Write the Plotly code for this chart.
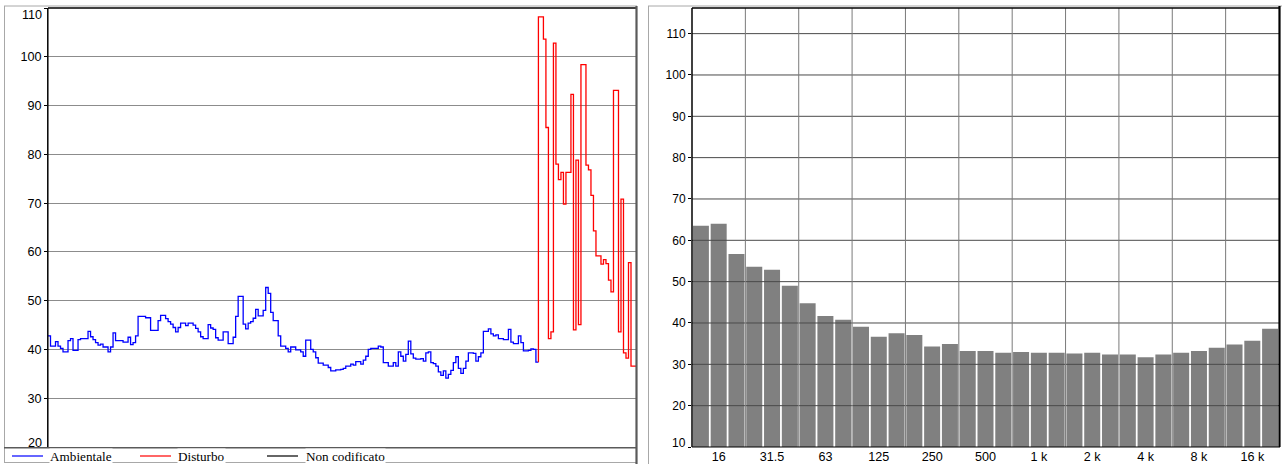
import plotly.graph_objects as go

# Short-interval level history (dB), one value per sample
level_amb = [
    42.8, 40.7, 40.7, 41.6, 40.7, 40.2, 39.5, 39.5, 41.8, 42.2,
    39.8, 39.8, 42.0, 42.2, 42.2, 42.2, 43.7, 42.6, 42.0, 41.4,
    40.9, 41.1, 40.5, 40.5, 39.5, 40.5, 43.4, 41.8, 41.8, 41.8,
    41.5, 41.5, 42.5, 41.0, 41.4, 42.8, 46.8, 46.8, 46.8, 46.5,
    46.5, 43.9, 43.9, 43.9, 45.9, 47.0, 47.0, 46.3, 45.7, 45.2,
    44.5, 43.6, 44.5, 45.4, 45.4, 44.9, 45.4, 45.4, 45.0, 44.3,
    43.6, 42.6, 42.2, 42.2, 45.1, 44.4, 44.1, 42.4, 41.9, 41.9,
    43.6, 43.6, 41.2, 41.2, 42.5, 46.8, 50.9, 50.9, 45.2, 44.2,
    45.4, 45.7, 46.4, 48.2, 46.9, 46.9, 48.0, 52.7, 51.5, 47.6,
    45.9, 45.9, 42.8, 40.7, 40.7, 40.2, 39.5, 40.5, 40.5, 39.9,
    39.9, 39.5, 38.6, 41.9, 41.9, 40.0, 39.5, 38.3, 37.2, 37.2,
    36.8, 36.8, 36.3, 35.6, 35.6, 35.8, 35.8, 35.9, 36.1, 36.6,
    36.6, 37.0, 36.8, 37.5, 37.5, 37.0, 37.8, 38.6, 40.0, 40.2,
    40.2, 40.2, 40.7, 40.5, 37.3, 37.3, 36.6, 36.6, 37.3, 36.6,
    39.5, 38.6, 37.6, 39.0, 41.7, 39.1, 38.2, 38.0, 38.0, 38.1,
    37.6, 39.3, 39.5, 37.3, 37.1, 36.6, 35.4, 34.7, 35.6, 34.1,
    34.9, 35.7, 37.3, 38.5, 36.1, 35.1, 36.1, 37.6, 39.3, 39.3,
    39.2, 37.6, 38.5, 39.3, 43.7, 43.7, 44.2, 43.2, 42.8, 43.0,
    42.2, 42.2, 42.0, 42.0, 44.1, 41.5, 41.2, 41.2, 42.8, 41.4,
    39.7, 39.7, 39.8, 40.1, 40.0, 37.4,
]
level_dist = [
    108.2, 108.2, 103.6, 85.5, 42.2, 43.6, 102.8, 78.0, 74.8, 76.3,
    69.8, 76.3, 76.3, 92.3, 44.0, 78.8, 45.1, 98.4, 98.4, 77.8,
    76.8, 71.6, 64.3, 59.2, 59.2, 57.5, 58.4, 57.6, 54.2, 51.8,
    93.1, 93.1, 43.6, 70.8, 39.3, 38.2, 57.8, 36.6, 36.6,
]
level_ticks = [20, 30, 40, 50, 60, 70, 80, 90, 100, 110]

# One-third octave spectrum (dB)
bands = ["12.5", "16", "20", "25", "31.5", "40", "50", "63", "80", "100",
         "125", "160", "200", "250", "315", "400", "500", "630", "800", "1 k",
         "1.25 k", "1.6 k", "2 k", "2.5 k", "3.15 k", "4 k", "5 k", "6.3 k",
         "8 k", "10 k", "12.5 k", "16 k", "20 k"]
spectrum = [63.5, 64.0, 56.7, 53.6, 52.9, 49.0, 44.8, 41.7, 40.8, 39.1,
            36.7, 37.5, 37.1, 34.3, 34.9, 33.2, 33.2, 32.8, 33.0, 32.8,
            32.8, 32.6, 32.8, 32.4, 32.4, 31.7, 32.4, 32.8, 33.2, 34.0,
            34.8, 35.7, 38.6]
band_ticks = ["16", "31.5", "63", "125", "250", "500", "1 k", "2 k", "4 k", "8 k", "16 k"]
spectrum_ticks = [10, 20, 30, 40, 50, 60, 70, 80, 90, 100, 110]

legend_items = [("Ambientale", "#0000ff"), ("Disturbo", "#ff0000"), ("Non codificato", "#000000")]

W, H = 1282, 464


def px(x):
    return x / W


def py(y):
    return 1 - y / H


TICK_FONT = dict(family="Liberation Sans, Arial, sans-serif", size=12.6, color="#000000")

fig = go.Figure()

# time history: step lines, the disturbance trace continues from the last ambient sample
n_amb = len(level_amb)
t_amb = list(range(n_amb)) + [n_amb]
fig.add_trace(go.Scatter(
    x=t_amb, y=level_amb + [level_amb[-1]], mode="lines",
    line=dict(color="#0000ff", width=1.3, shape="hv"),
    xaxis="x", yaxis="y", showlegend=False, hoverinfo="skip"))

n_dist = len(level_dist)
t_dist = [n_amb] + list(range(n_amb, n_amb + n_dist)) + [n_amb + n_dist]
fig.add_trace(go.Scatter(
    x=t_dist, y=[level_amb[-1]] + level_dist + [level_dist[-1]], mode="lines",
    line=dict(color="#ff0000", width=1.3, shape="hv"),
    xaxis="x", yaxis="y", showlegend=False, hoverinfo="skip"))

# spectrum bars
fig.add_trace(go.Bar(
    x=bands, y=spectrum, marker=dict(color="#808080", line=dict(width=0)),
    xaxis="x2", yaxis="y2", showlegend=False, hoverinfo="skip"))

shapes = []
annotations = []

# gridlines of the spectrum drawn over the bars
for v in spectrum_ticks[1:]:
    shapes.append(dict(type="line", xref="x2 domain", x0=0, x1=1, yref="y2", y0=v, y1=v,
                       line=dict(color="#4a4a4a", width=1), layer="above"))
for i in range(3, len(bands), 3):
    shapes.append(dict(type="line", xref="x2", x0=i - 0.5, x1=i - 0.5, yref="y2 domain", y0=0, y1=1,
                       line=dict(color="#7a7a7a", width=1), layer="above"))


def seg(x0, y0, x1, y1, color, width):
    shapes.append(dict(type="line", xref="paper", yref="paper",
                       x0=px(x0), y0=py(y0), x1=px(x1), y1=py(y1),
                       line=dict(color=color, width=width), layer="above"))


# left panel frame and legend strip
seg(4, 6, 637, 6, "#a8a8a8", 1)
seg(4.5, 6, 4.5, 463, "#a8a8a8", 1)
seg(4, 462.5, 637, 462.5, "#a8a8a8", 1)
seg(48, 8, 636, 8, "#000000", 1.5)
seg(47.8, 8, 47.8, 447, "#000000", 1.5)
seg(636.5, 6, 636.5, 464, "#5a5a5a", 2.2)
seg(4, 447.8, 637, 447.8, "#5a5a5a", 1.5)

# right panel frame
seg(648, 6, 1282, 6, "#a8a8a8", 1)
seg(648.5, 6, 648.5, 464, "#a8a8a8", 1)
seg(692, 8, 1280, 8, "#000000", 1.5)
seg(692, 8, 692, 447, "#000000", 1.5)
seg(1279.5, 6, 1279.5, 447, "#000000", 2.2)
seg(692, 447, 1280, 447, "#000000", 1.2)

# legend entries
legend_x = [(12, 43, 49), (140, 171, 177), (267, 298, 305)]
for (label, color), (lx0, lx1, tx) in zip(legend_items, legend_x):
    seg(lx0, 456, lx1, 456, color, 1.2)
    annotations.append(dict(xref="paper", yref="paper", x=px(tx), y=py(456.5),
                            xanchor="left", yanchor="middle", text=label, showarrow=False,
                            bgcolor="#ffffff", borderpad=0,
                            font=dict(family="Liberation Serif, Times New Roman, serif",
                                      size=13.2, color="#000000")))

# end labels of the level axis sit inside the plot height
annotations.append(dict(xref="paper", yref="y", x=px(44), y=level_ticks[-1], yshift=-7,
                        xanchor="right", yanchor="middle", text=str(level_ticks[-1]),
                        showarrow=False, font=TICK_FONT))
annotations.append(dict(xref="paper", yref="y", x=px(44), y=level_ticks[0], yshift=4,
                        xanchor="right", yanchor="middle", text=str(level_ticks[0]),
                        showarrow=False, font=TICK_FONT))
annotations.append(dict(xref="paper", yref="y2", x=px(688), y=spectrum_ticks[0], yshift=4,
                        xanchor="right", yanchor="middle", text=str(spectrum_ticks[0]),
                        showarrow=False, font=dict(TICK_FONT, size=12)))

fig.update_layout(
    width=W, height=H, autosize=False,
    margin=dict(l=0, r=0, t=0, b=0),
    paper_bgcolor="#ffffff", plot_bgcolor="#ffffff",
    bargap=0.1,
    xaxis=dict(domain=[px(48), px(636)], range=[0, n_amb + n_dist],
               showticklabels=False, showgrid=False, zeroline=False, showline=False,
               ticks="", anchor="y", fixedrange=True),
    yaxis=dict(domain=[py(447), py(8)], range=[20, 110], anchor="x",
               tickvals=level_ticks,
               ticktext=[str(v) if level_ticks[0] < v < level_ticks[-1] else "" for v in level_ticks],
               ticks="outside", ticklen=3, tickcolor="#000000",
               showgrid=True, gridcolor="#8c8c8c", gridwidth=1,
               zeroline=False, showline=False, tickfont=TICK_FONT, fixedrange=True),
    xaxis2=dict(domain=[px(692), px(1279)], type="category", categoryorder="array",
                categoryarray=bands, range=[-0.5, len(bands) - 0.5], anchor="y2",
                tickvals=band_ticks, ticktext=band_ticks, ticks="", showgrid=False,
                zeroline=False, showline=False, tickfont=TICK_FONT, fixedrange=True),
    yaxis2=dict(domain=[py(447), py(8)], range=[10, 116.2], anchor="x2",
                tickvals=spectrum_ticks,
                ticktext=[str(v) if v > spectrum_ticks[0] else "" for v in spectrum_ticks],
                ticks="outside", ticklen=3, tickcolor="#000000",
                showgrid=False, zeroline=False, showline=False,
                tickfont=dict(TICK_FONT, size=12), fixedrange=True),
    shapes=shapes,
    annotations=annotations,
)

fig.write_html("out.html")
